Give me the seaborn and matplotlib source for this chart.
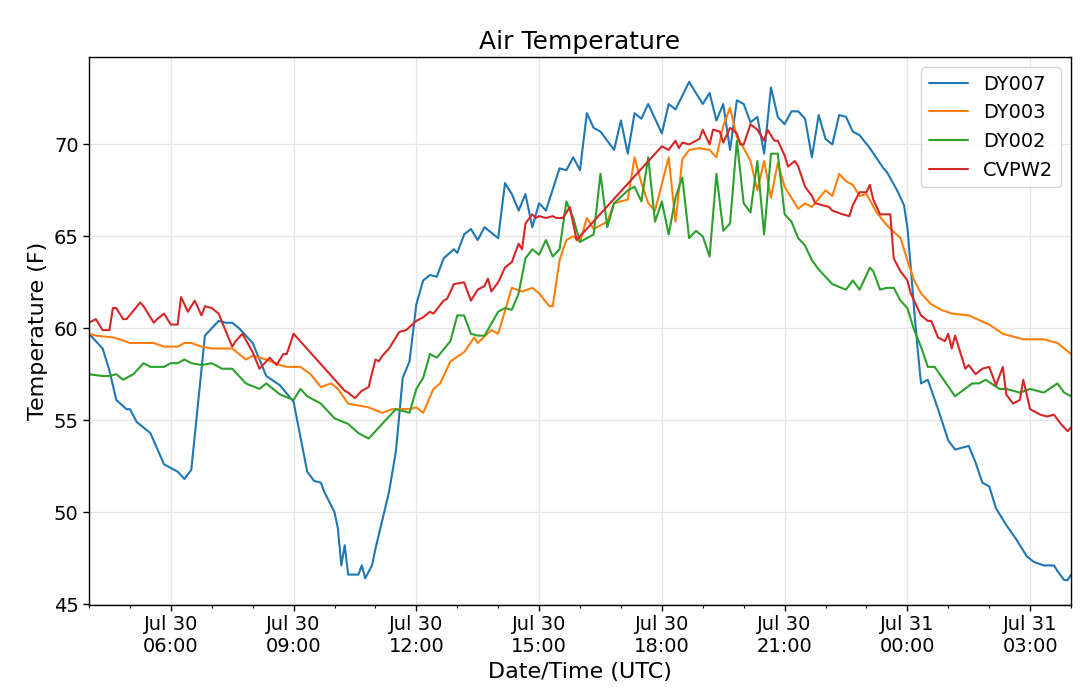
import matplotlib
matplotlib.use('Agg')
import matplotlib.pyplot as plt
import matplotlib.dates as mdates
import seaborn as sns
import pandas as pd

sns.set_style('ticks', {'axes.grid': True, 'grid.color': '#e6e6e6',
                        'axes.edgecolor': 'black', 'xtick.color': 'black',
                        'ytick.color': 'black', 'text.color': 'black',
                        'axes.labelcolor': 'black'})
plt.rcParams['font.family'] = ['DejaVu Sans']

# ── data (clock times UTC, starting Jul 30 04:00; rolls over past midnight) ──
dy007_time = ['04:00', '04:20', '04:30', '04:40', '04:55', '05:00', '05:10', '05:30', '05:50', '06:05',
              '06:10', '06:20', '06:30', '06:50', '07:00', '07:10', '07:20', '07:30', '07:40', '08:00',
              '08:20', '08:40', '09:00', '09:20', '09:30', '09:40', '09:45', '10:00', '10:05', '10:10',
              '10:15', '10:20', '10:35', '10:40', '10:45', '10:55', '11:00', '11:20', '11:30', '11:40',
              '11:50', '12:00', '12:10', '12:20', '12:30', '12:40', '12:55', '13:00', '13:10', '13:20',
              '13:30', '13:40', '14:00', '14:10', '14:20', '14:30', '14:40', '14:50', '15:00', '15:10',
              '15:30', '15:40', '15:50', '16:00', '16:10', '16:20', '16:30', '16:50', '17:00', '17:10',
              '17:20', '17:30', '17:40', '18:00', '18:10', '18:20', '18:40', '19:00', '19:10', '19:20',
              '19:30', '19:40', '19:50', '20:00', '20:10', '20:20', '20:30', '20:40', '20:50', '21:00',
              '21:10', '21:20', '21:30', '21:40', '21:50', '22:00', '22:10', '22:20', '22:30', '22:40',
              '22:50', '23:05', '23:25', '23:30', '23:45', '23:55', '00:00', '00:05', '00:10', '00:15',
              '00:20', '00:30', '00:45', '01:00', '01:10', '01:30', '01:40', '01:50', '02:00', '02:10',
              '02:25', '02:40', '02:55', '03:05', '03:20', '03:35', '03:40', '03:50', '03:55', '04:00']
dy007_temp = [59.7, 58.9, 57.7, 56.1, 55.6, 55.6, 54.9, 54.3, 52.6, 52.3,
              52.2, 51.8, 52.3, 59.6, 60.0, 60.4, 60.3, 60.3, 60.0, 59.2,
              57.4, 56.9, 56.0, 52.2, 51.7, 51.6, 51.1, 50.0, 49.1, 47.1,
              48.2, 46.6, 46.6, 47.1, 46.4, 47.1, 48.0, 51.1, 53.3, 57.3,
              58.2, 61.3, 62.6, 62.9, 62.8, 63.8, 64.3, 64.1, 65.1, 65.4,
              64.8, 65.5, 64.9, 67.9, 67.3, 66.4, 67.3, 65.5, 66.8, 66.4,
              68.7, 68.6, 69.3, 68.6, 71.7, 70.9, 70.7, 69.7, 71.3, 69.5,
              71.7, 71.4, 72.2, 70.6, 72.2, 71.9, 73.4, 72.2, 72.8, 71.3,
              72.2, 69.7, 72.4, 72.2, 71.2, 71.5, 69.5, 73.1, 71.5, 71.1,
              71.8, 71.8, 71.4, 69.3, 71.6, 70.3, 70.0, 71.6, 71.5, 70.7,
              70.5, 69.8, 68.7, 68.5, 67.5, 66.7, 65.5, 63.3, 61.0, 58.9,
              57.0, 57.2, 55.6, 53.9, 53.4, 53.6, 52.7, 51.6, 51.4, 50.2,
              49.3, 48.5, 47.6, 47.3, 47.1, 47.1, 46.8, 46.3, 46.3, 46.6]

dy003_time = ['04:00', '04:10', '04:35', '04:45', '05:00', '05:35', '05:50', '06:10', '06:20', '06:30',
              '06:45', '07:00', '07:30', '07:50', '08:00', '08:20', '08:40', '08:50', '09:10', '09:25',
              '09:40', '09:55', '10:05', '10:20', '10:35', '10:50', '11:10', '11:25', '11:50', '12:00',
              '12:10', '12:25', '12:35', '12:50', '13:10', '13:25', '13:30', '13:50', '14:00', '14:20',
              '14:35', '14:50', '15:00', '15:15', '15:20', '15:30', '15:40', '15:50', '16:00', '16:10',
              '16:20', '16:40', '16:50', '17:10', '17:20', '17:30', '17:40', '17:50', '18:10', '18:20',
              '18:30', '18:40', '18:55', '19:10', '19:20', '19:30', '19:40', '19:50', '20:00', '20:10',
              '20:20', '20:30', '20:40', '20:50', '21:00', '21:20', '21:30', '21:40', '22:00', '22:10',
              '22:20', '22:30', '22:40', '22:50', '23:00', '23:15', '23:30', '23:50', '00:00', '00:10',
              '00:20', '00:35', '00:50', '01:05', '01:30', '02:00', '02:20', '02:50', '03:20', '03:40',
              '04:00']
dy003_temp = [59.7, 59.6, 59.5, 59.4, 59.2, 59.2, 59.0, 59.0, 59.2, 59.2,
              59.0, 58.9, 58.9, 58.3, 58.5, 58.3, 58.0, 57.9, 57.9, 57.5,
              56.8, 57.0, 56.7, 55.9, 55.8, 55.7, 55.4, 55.6, 55.6, 55.7,
              55.4, 56.7, 57.0, 58.2, 58.7, 59.5, 59.2, 59.9, 59.7, 62.2,
              62.0, 62.2, 61.9, 61.2, 61.2, 63.7, 64.8, 65.0, 64.7, 66.0,
              65.4, 65.8, 66.8, 67.0, 69.3, 67.9, 66.8, 66.4, 69.3, 65.8,
              69.2, 69.7, 69.8, 69.7, 69.3, 71.0, 72.0, 70.4, 69.8, 69.1,
              67.5, 69.1, 67.1, 69.0, 67.7, 66.5, 66.8, 66.6, 67.5, 67.2,
              68.4, 68.0, 67.8, 67.2, 67.3, 66.3, 65.6, 64.9, 63.7, 62.6,
              61.9, 61.3, 61.0, 60.8, 60.7, 60.2, 59.7, 59.4, 59.4, 59.2,
              58.6]

dy002_time = ['04:00', '04:20', '04:30', '04:40', '04:50', '05:05', '05:20', '05:30', '05:50', '06:00',
              '06:10', '06:20', '06:30', '06:45', '07:00', '07:15', '07:30', '07:50', '08:10', '08:20',
              '08:40', '09:00', '09:10', '09:20', '09:40', '10:00', '10:20', '10:35', '10:50', '11:05',
              '11:30', '11:50', '12:00', '12:10', '12:20', '12:30', '12:50', '13:00', '13:10', '13:20',
              '13:30', '13:40', '14:00', '14:10', '14:20', '14:30', '14:40', '14:50', '15:00', '15:10',
              '15:20', '15:30', '15:40', '15:50', '16:00', '16:20', '16:30', '16:40', '16:50', '17:10',
              '17:20', '17:30', '17:40', '17:50', '18:00', '18:10', '18:20', '18:30', '18:40', '18:50',
              '19:00', '19:10', '19:20', '19:30', '19:40', '19:50', '20:00', '20:10', '20:20', '20:30',
              '20:40', '20:50', '21:00', '21:10', '21:20', '21:30', '21:40', '21:50', '22:10', '22:30',
              '22:40', '22:50', '23:05', '23:10', '23:20', '23:30', '23:40', '23:50', '00:00', '00:10',
              '00:20', '00:30', '00:40', '00:55', '01:10', '01:35', '01:45', '01:55', '02:15', '02:25',
              '02:45', '03:00', '03:20', '03:40', '03:50', '04:00']
dy002_temp = [57.5, 57.4, 57.4, 57.5, 57.2, 57.5, 58.1, 57.9, 57.9, 58.1,
              58.1, 58.3, 58.1, 58.0, 58.1, 57.8, 57.8, 57.0, 56.7, 57.0,
              56.4, 56.1, 56.7, 56.3, 55.9, 55.1, 54.8, 54.3, 54.0, 54.6,
              55.6, 55.4, 56.7, 57.3, 58.6, 58.4, 59.3, 60.7, 60.7, 59.7,
              59.6, 59.6, 60.9, 61.1, 61.0, 61.9, 63.8, 64.3, 64.0, 64.8,
              63.9, 64.3, 66.9, 66.0, 64.7, 65.1, 68.4, 65.5, 66.8, 67.5,
              67.7, 66.9, 69.3, 65.8, 66.9, 65.1, 67.1, 68.2, 64.9, 65.3,
              65.0, 63.9, 68.4, 65.3, 65.7, 70.2, 66.8, 66.3, 69.1, 65.1,
              69.5, 69.5, 66.2, 65.8, 64.9, 64.5, 63.7, 63.2, 62.4, 62.1,
              62.6, 62.1, 63.3, 63.1, 62.1, 62.2, 62.2, 61.5, 61.1, 59.9,
              59.0, 57.9, 57.9, 57.1, 56.3, 57.0, 57.0, 57.2, 56.7, 56.7,
              56.5, 56.7, 56.5, 57.0, 56.5, 56.3]

cvpw2_time = ['04:00', '04:10', '04:20', '04:30', '04:35', '04:40', '04:50', '04:55', '05:15', '05:20',
              '05:35', '05:40', '05:50', '06:00', '06:10', '06:15', '06:25', '06:35', '06:45', '06:50',
              '07:00', '07:10', '07:20', '07:30', '07:35', '07:45', '08:00', '08:10', '08:25', '08:35',
              '08:45', '08:50', '09:00', '10:15', '10:20', '10:30', '10:40', '10:50', '11:00', '11:05',
              '11:10', '11:20', '11:35', '11:45', '12:00', '12:10', '12:20', '12:25', '12:40', '12:45',
              '12:55', '13:10', '13:20', '13:30', '13:40', '13:45', '13:50', '14:00', '14:10', '14:20',
              '14:30', '14:35', '14:40', '14:50', '14:55', '15:00', '15:10', '15:20', '15:25', '15:35',
              '15:45', '15:55', '18:00', '18:10', '18:20', '18:25', '18:30', '18:40', '18:55', '19:00',
              '19:10', '19:15', '19:25', '19:30', '19:40', '19:50', '19:55', '20:00', '20:10', '20:20',
              '20:30', '20:35', '20:45', '20:50', '21:00', '21:05', '21:15', '21:20', '21:30', '21:40',
              '21:45', '21:55', '22:05', '22:10', '22:25', '22:35', '22:40', '22:50', '23:00', '23:05',
              '23:10', '23:20', '23:35', '23:40', '23:50', '00:00', '00:05', '00:10', '00:20', '00:30',
              '00:35', '00:45', '00:55', '01:00', '01:05', '01:10', '01:25', '01:30', '01:40', '01:50',
              '02:00', '02:10', '02:20', '02:25', '02:35', '02:45', '02:50', '03:00', '03:15', '03:25',
              '03:35', '03:45', '03:50', '03:55', '04:00']
cvpw2_temp = [60.3, 60.5, 59.9, 59.9, 61.1, 61.1, 60.5, 60.5, 61.4, 61.2,
              60.3, 60.5, 60.8, 60.2, 60.2, 61.7, 60.9, 61.5, 60.7, 61.2,
              61.1, 60.8, 59.9, 59.0, 59.3, 59.7, 58.7, 57.8, 58.4, 58.0,
              58.6, 58.6, 59.7, 56.6, 56.5, 56.2, 56.6, 56.8, 58.3, 58.2,
              58.5, 58.9, 59.8, 59.9, 60.4, 60.6, 60.9, 60.8, 61.5, 61.6,
              62.4, 62.5, 61.5, 62.1, 62.3, 62.7, 62.0, 62.5, 63.3, 63.6,
              64.6, 64.3, 65.7, 66.2, 66.0, 66.1, 66.0, 66.1, 66.0, 66.0,
              66.6, 64.8, 69.9, 69.7, 70.2, 69.8, 70.1, 70.0, 70.3, 70.8,
              70.0, 70.8, 70.7, 70.1, 70.9, 70.6, 70.0, 70.0, 71.1, 70.8,
              70.2, 70.8, 70.2, 70.2, 69.4, 68.8, 69.1, 68.8, 67.7, 67.2,
              66.8, 66.7, 66.6, 66.4, 66.2, 66.1, 66.7, 67.4, 67.4, 67.8,
              67.0, 66.2, 66.2, 63.8, 63.1, 62.6, 61.9, 61.5, 60.7, 60.4,
              60.4, 59.5, 59.3, 59.7, 58.9, 59.6, 57.8, 58.0, 57.5, 57.8,
              57.9, 56.9, 57.9, 56.4, 55.9, 56.1, 57.2, 55.6, 55.3, 55.2,
              55.3, 54.8, 54.6, 54.4, 54.6]

stations = ['DY007', 'DY003', 'DY002', 'CVPW2']
colors = ['#1f77b4', '#ff7f0e', '#2ca02c', '#d62728']
series = {'DY007': (dy007_time, dy007_temp), 'DY003': (dy003_time, dy003_temp),
          'DY002': (dy002_time, dy002_temp), 'CVPW2': (cvpw2_time, cvpw2_temp)}


def to_stamps(clock, start='2020-07-30'):
    base = pd.Timestamp(start)
    day, prev, out = 0, None, []
    for c in clock:
        t = pd.Timedelta(hours=int(c[:2]), minutes=int(c[3:]))
        if prev is not None and t < prev:
            day += 1
        prev = t
        out.append(base + pd.Timedelta(days=day) + t)
    return out


frames = []
for name in stations:
    clock, temp = series[name]
    frames.append(pd.DataFrame({'time': to_stamps(clock), 'temp': temp, 'station': name}))
df = pd.concat(frames, ignore_index=True)

fig = plt.figure(figsize=(10.8, 6.98), dpi=100)
ax = fig.add_axes([0.0824, 0.1332, 0.9093, 0.7851])
sns.lineplot(data=df, x='time', y='temp', hue='station', hue_order=stations,
             palette=colors, estimator=None, sort=False, linewidth=1.5, ax=ax)

ax.set_xlim(df['time'].min(), df['time'].max())
ax.xaxis.set_major_locator(mdates.HourLocator(byhour=range(0, 24, 3)))
ax.xaxis.set_minor_locator(mdates.HourLocator())
ax.xaxis.set_major_formatter(mdates.DateFormatter('%b %d\n%H:%M'))
ax.tick_params(axis='both', which='major', labelsize=14, length=4, width=1)
ax.tick_params(axis='x', which='minor', length=2.5, width=0.8)
for s in ax.spines.values():
    s.set_visible(True)
    s.set_color('black')
    s.set_linewidth(1)
ax.grid(True, which='major', color='#e6e6e6', linewidth=1)
ax.set_axisbelow(True)

ax.set_title('Air Temperature', fontsize=18)
ax.set_xlabel('Date/Time (UTC)', fontsize=16)
ax.set_ylabel('Temperature (F)', fontsize=16)
ax.legend(loc='upper right', fontsize=14, title=None)

fig.savefig('out.png', dpi=100)
plt.close(fig)
